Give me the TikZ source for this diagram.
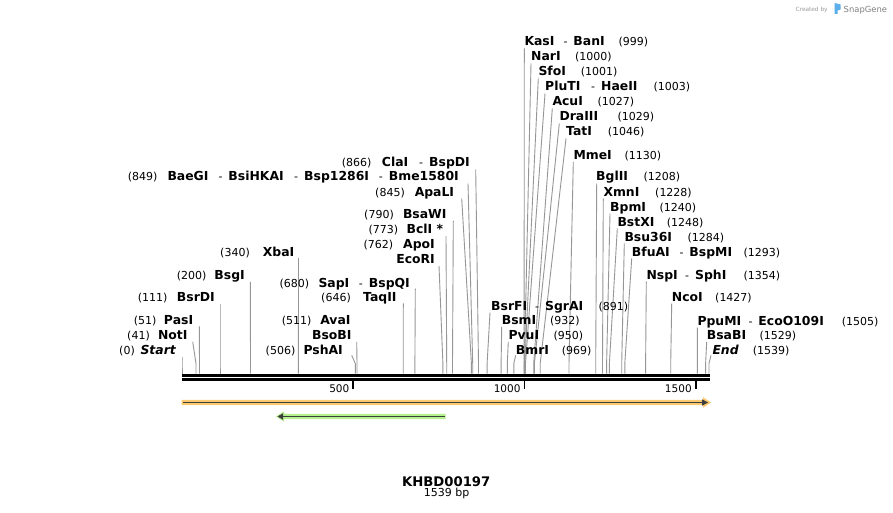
\documentclass[tikz,border=0pt]{standalone}
\usepackage{fontspec}
\setmainfont{DejaVu Sans}
\definecolor{bandorange}{RGB}{250,201,112}
\definecolor{bandgreen}{RGB}{180,240,140}
\definecolor{featline}{RGB}{62,62,62}
\definecolor{sitegray}{RGB}{150,150,150}
\definecolor{sgblue}{RGB}{90,175,235}
\newcommand\sgd{{\mdseries\fontsize{11}{13}\selectfont -}\hspace{6pt}}
\newcommand\sgline[2]{\draw[siteline] #1 -- ([yshift=10pt]#2) -- (#2);}
\begin{document}
\begin{tikzpicture}[x=1pt,y=-1pt,
  nm/.style={font=\fontsize{12.4}{14}\selectfont\bfseries, inner sep=0pt, anchor=base west},
  nmr/.style={nm, anchor=base east},
  num/.style={font=\fontsize{11}{13}\selectfont, inner sep=0pt, anchor=base west},
  numr/.style={num, anchor=base east},
  siteline/.style={draw=sitegray, line width=0.9pt},
  ticklbl/.style={font=\fontsize{10.5}{12}\selectfont, inner sep=0pt, anchor=base east}]
\fill[white] (0,0) rectangle (893,513);
\useasboundingbox (0,0) rectangle (893,513);

% ---------- site coordinates on the backbone ----------
\foreach \n/\x in {0/182.0,41/196.0,51/199.5,111/220.0,200/250.5,340/298.4,506/355.3,511/357.0,
  646/403.2,680/414.9,762/442.9,773/446.7,790/452.5,845/471.4,849/472.7,866/478.5,
  891/487.1,932/501.1,950/507.3,969/513.8,999/524.1,1000/524.4,1001/524.8,1003/525.5,
  1027/533.7,1029/534.4,1046/540.2,1130/569.0,1208/595.7,1228/602.5,1240/606.6,
  1248/609.4,1284/621.7,1293/624.8,1354/645.6,1427/670.7,1505/697.4,1529/705.6,1539/709.0}
  {\coordinate (s\n) at (\x,373.5);}

% ---------- backbone ----------
\draw[line width=2.7pt] (182,375.3) -- (710,375.3);
\draw[line width=2.7pt] (182,379.7) -- (710,379.7);
\coordinate (t500) at (353.2,380);
\coordinate (t1000) at (524.4,380);
\coordinate (t1500) at (695.6,380);
\draw[line width=1.8pt] (t500) -- ++(0,8.5);
\draw[line width=1.8pt] (t1000) -- ++(0,8.5);
\draw[line width=1.8pt] (t1500) -- ++(0,8.5);
\node[ticklbl] (l500) at (349.5,392.5) {500};
\node[ticklbl] (l1000) at (520.7,392.5) {1000};
\node[ticklbl] (l1500) at (691.9,392.5) {1500};

% ---------- features ----------
\fill[bandorange] (181.5,399.8) -- (703,399.8) -- (703,397.2) -- (711,402.5) -- (703,407.8) -- (703,405.2) -- (181.5,405.2) -- cycle;
\draw[featline, line width=1.8pt] (183,402.5) -- (704,402.5);
\fill[featline] (702,399.3) -- (708,402.5) -- (702,405.7) -- cycle;
\fill[bandgreen] (445.5,413.8) -- (284,413.8) -- (284,411.3) -- (276,416.5) -- (284,421.7) -- (284,419.2) -- (445.5,419.2) -- cycle;
\draw[featline, line width=1.8pt] (444.5,416.5) -- (281,416.5);
\fill[featline] (283,413.3) -- (277.5,416.5) -- (283,419.7) -- cycle;

% ---------- right-hand labels ----------
\node[nm] (kasI) at (524.3,46) {KasI};
\node[nm] (banI) at (563.3,46) {\sgd BanI};
\node[num] (p999) at (618.3,46) {(999)};
\sgline{([yshift=-2.5pt]kasI.base west)}{s999}
\node[nm] (narI) at (531,61) {NarI};
\node[num] (p1000) at (575,61) {(1000)};
\sgline{([yshift=-2.5pt]narI.base west)}{s1000}
\node[nm] (sfoI) at (538.3,76) {SfoI};
\node[num] (p1001) at (580.7,76) {(1001)};
\sgline{([yshift=-2.5pt]sfoI.base west)}{s1001}
\node[nm] (pluTI) at (545,91) {PluTI};
\node[nm] (haeII) at (591,91) {\sgd HaeII};
\node[num] (p1003) at (653.3,91) {(1003)};
\sgline{([yshift=-2.5pt]pluTI.base west)}{s1003}
\node[nm] (acuI) at (552.3,106) {AcuI};
\node[num] (p1027) at (597.3,106) {(1027)};
\sgline{([yshift=-2.5pt]acuI.base west)}{s1027}
\node[nm] (draIII) at (559.3,121) {DraIII};
\node[num] (p1029) at (617.3,121) {(1029)};
\sgline{([yshift=-2.5pt]draIII.base west)}{s1029}
\node[nm] (tatI) at (566,136) {TatI};
\node[num] (p1046) at (607.7,136) {(1046)};
\sgline{([yshift=-2.5pt]tatI.base west)}{s1046}
\node[nm] (mmeI) at (573.3,159.3) {MmeI};
\node[num] (p1130) at (624.3,159.3) {(1130)};
\sgline{([yshift=-2.5pt]mmeI.base west)}{s1130}
\node[nm] (bglII) at (596,181) {BglII};
\node[num] (p1208) at (643.3,181) {(1208)};
\sgline{([shift={(0.7pt,-2.5pt)}]bglII.base west)}{s1208}
\node[nm] (xmnI) at (603.3,196) {XmnI};
\node[num] (p1228) at (655,196) {(1228)};
\sgline{([yshift=-2.5pt]xmnI.base west)}{s1228}
\node[nm] (bpmI) at (610,211) {BpmI};
\node[num] (p1240) at (659.3,211) {(1240)};
\sgline{([yshift=-2.5pt]bpmI.base west)}{s1240}
\node[nm] (bstXI) at (617.3,226) {BstXI};
\node[num] (p1248) at (666.7,226) {(1248)};
\sgline{([yshift=-2.5pt]bstXI.base west)}{s1248}
\node[nm] (bsu36I) at (624.3,241) {Bsu36I};
\node[num] (p1284) at (687.3,241) {(1284)};
\sgline{([yshift=-2.5pt]bsu36I.base west)}{s1284}
\node[nm] (bfuAI) at (631.7,256) {BfuAI};
\node[nm] (bspMI) at (679.3,256) {\sgd BspMI};
\node[num] (p1293) at (743.3,256) {(1293)};
\sgline{([yshift=-2.5pt]bfuAI.base west)}{s1293}
\node[nm] (nspI) at (646.3,279) {NspI};
\node[nm] (sphI) at (685,279) {\sgd SphI};
\node[num] (p1354) at (743.3,279) {(1354)};
\sgline{([yshift=-2.5pt]nspI.base west)}{s1354}
\node[nm] (ncoI) at (671.7,301) {NcoI};
\node[num] (p1427) at (715,301) {(1427)};
\sgline{([yshift=-2.5pt]ncoI.base west)}{s1427}
\node[nm] (bsrFI) at (491,310) {BsrFI};
\node[nm] (sgrAI) at (535,310) {\sgd SgrAI};
\node[num] (p891) at (598.3,310) {(891)};
\sgline{([shift={(-1pt,-2.5pt)}]bsrFI.base west)}{s891}
\node[nm] (ppuMI) at (697.3,325) {PpuMI};
\node[nm] (ecoO109I) at (748.3,325) {\sgd EcoO109I};
\node[num] (p1505) at (841.7,325) {(1505)};
\sgline{([yshift=-2.5pt]ppuMI.base west)}{s1505}
\node[nm] (bsmI) at (501.7,324.3) {BsmI};
\node[num] (p932) at (550,324.3) {(932)};
\sgline{([yshift=-2.5pt]bsmI.base west)}{s932}
\node[nm] (bsaBI) at (706.7,339.3) {BsaBI};
\node[num] (p1529) at (759.3,339.3) {(1529)};
\sgline{([yshift=-2.5pt]bsaBI.base west)}{s1529}
\node[nm] (pvuI) at (508.3,339.3) {PvuI};
\node[num] (p950) at (553.3,339.3) {(950)};
\sgline{([yshift=-2.5pt]pvuI.base west)}{s950}
\node[nm, font=\fontsize{12.4}{14}\selectfont\bfseries\itshape] (endL) at (712.3,354.3) {End};
\node[num] (p1539) at (752.7,354.3) {(1539)};
\sgline{([shift={(-1.3pt,-1pt)}]endL.base west)}{s1539}
\node[nm] (bmrI) at (515.7,354.3) {BmrI};
\node[num] (p969) at (561.7,354.3) {(969)};
\sgline{([yshift=-1pt]bmrI.base west)}{s969}

% ---------- left-hand labels ----------
\node[numr] (p866) at (371.7,167) {(866)};
\node[nm] (claI) at (381.7,167) {ClaI};
\node[nmr] (bspDI) at (470,167) {\sgd BspDI};
\sgline{([shift={(5.7pt,-2.5pt)}]bspDI.base east)}{s866}
\node[numr] (p849) at (157.7,181) {(849)};
\node[nm] (baeGI) at (167.3,181) {BaeGI};
\node[nm] (bsiHKAI) at (218.3,181) {\sgd BsiHKAI};
\node[nm] (bsp1286I) at (294,181) {\sgd Bsp1286I};
\node[nmr] (bme1580I) at (459,181) {\sgd Bme1580I};
\sgline{([shift={(9pt,-2.5pt)}]bme1580I.base east)}{s849}
\node[numr] (p845) at (405,196) {(845)};
\node[nmr] (apaLI) at (454.3,196) {ApaLI};
\sgline{([shift={(7.4pt,-2.5pt)}]apaLI.base east)}{s845}
\node[numr] (p790) at (394,218.3) {(790)};
\node[nmr] (bsaWI) at (446.7,218.3) {BsaWI};
\sgline{([shift={(6.6pt,-2.5pt)}]bsaWI.base east)}{s790}
\node[numr] (p773) at (398.3,233.3) {(773)};
\node[nmr] (bclI) at (443.3,233.3) {BclI *};
\sgline{([shift={(2.7pt,-2.5pt)}]bclI.base east)}{s773}
\node[numr] (p762) at (393.3,248.3) {(762)};
\node[nmr] (apoI) at (435,248.3) {ApoI};
\node[nmr] (ecoRI) at (435,263.3) {EcoRI};
\sgline{([shift={(4pt,-2.5pt)}]ecoRI.base east)}{s762}
\node[numr] (p340) at (250,256) {(340)};
\node[nmr] (xbaI) at (294.5,256) {XbaI};
\sgline{([shift={(4pt,-2pt)}]xbaI.base east)}{s340}
\node[numr] (p200) at (206.7,279.3) {(200)};
\node[nmr] (bsgI) at (245,279.3) {BsgI};
\sgline{([shift={(5.3pt,-2.5pt)}]bsgI.base east)}{s200}
\node[numr] (p111) at (167.7,301.6) {(111)};
\node[nmr] (bsrDI) at (215,301.6) {BsrDI};
\sgline{([shift={(5pt,-2pt)}]bsrDI.base east)}{s111}
\node[numr] (p51) at (156.7,324.3) {(51)};
\node[nmr] (pasI) at (193.3,324.3) {PasI};
\sgline{([shift={(6pt,-2pt)}]pasI.base east)}{s51}
\node[numr] (p41) at (150,339.3) {(41)};
\node[nmr] (notI) at (187.7,339.3) {NotI};
\sgline{([shift={(5pt,-2.5pt)}]notI.base east)}{s41}
\node[numr] (p0) at (135,354.3) {(0)};
\node[nmr, font=\fontsize{12.4}{14}\selectfont\bfseries\itshape] (startL) at (176,354.3) {Start};
\sgline{([shift={(6pt,-2.5pt)}]startL.base east)}{s0}
\node[numr] (p680) at (309.3,287) {(680)};
\node[nm] (sapI) at (318.3,287) {SapI};
\node[nmr] (bspQI) at (410,287) {\sgd BspQI};
\sgline{([shift={(5.3pt,-1.5pt)}]bspQI.base east)}{s680}
\node[numr] (p646) at (351,301.3) {(646)};
\node[nmr] (taqII) at (396.7,301.3) {TaqII};
\sgline{([shift={(6.6pt,-2pt)}]taqII.base east)}{s646}
\node[numr] (p511) at (311.7,324.3) {(511)};
\node[nmr] (avaI) at (350.7,324.3) {AvaI};
\node[nmr] (bsoBI) at (351.7,339.3) {BsoBI};
\sgline{([shift={(5pt,-2.5pt)}]bsoBI.base east)}{s511}
\node[numr] (p506) at (295.5,354.3) {(506)};
\node[nmr] (pshAI) at (343,354.3) {PshAI};
\sgline{([shift={(8.7pt,-1pt)}]pshAI.base east)}{s506}

% ---------- title ----------
\node[font=\fontsize{13.2}{15}\selectfont\bfseries, inner sep=0pt, anchor=base] (title) at (446.2,486.7) {KHBD00197};
\node[font=\fontsize{11}{13}\selectfont, inner sep=0pt, anchor=base] (bp) at (446.7,496.7) {1539 bp};

% ---------- watermark ----------
\node[font=\fontsize{5.8}{7}\selectfont, text=black!40, inner sep=0pt, anchor=base west] (created) at (795.5,12) {Created by};
\fill[sgblue] (834.5,3) -- (840.5,4.5) -- (840.5,9.5) -- (837.5,10.5) -- (837.5,14) -- (834.5,14) -- cycle;
\node[font=\fontsize{8.4}{9}\selectfont, text=black!50, inner sep=0pt, anchor=base west] (snapgene) at (843.5,12.5) {SnapGene};
\end{tikzpicture}
\end{document}
